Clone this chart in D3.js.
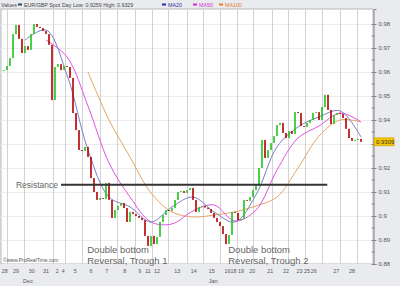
<!DOCTYPE html>
<html>
<head>
<meta charset="utf-8">
<script src="https://cdn.jsdelivr.net/npm/d3@7"></script>
<style>
  body { margin: 0; background: #e9ebee; }
  svg { display: block; font-family: "Liberation Sans", Arial, sans-serif; }
</style>
</head>
<body>
<svg id="chart" width="400" height="286"></svg>
<script>
// EUR/GBP spot, 4h closes (open = previous close)
const firstBarHour = 4;
const barHours = 4;
const closes = [
  0.9608, 0.9625, 0.9658, 0.9758, 0.9796, 0.9738, 0.9679, 0.9708, 0.9692, 0.9758,
  0.9800, 0.9788, 0.9783, 0.9771, 0.9758, 0.9713, 0.9483, 0.9621, 0.9633, 0.9608,
  0.9625, 0.9621, 0.9575, 0.9429, 0.9358, 0.9275, 0.9271, 0.9288, 0.9246, 0.9158,
  0.9100, 0.9067, 0.9075, 0.9071, 0.9138, 0.9067, 0.8992, 0.9025, 0.9042, 0.9054,
  0.9033, 0.8975, 0.9017, 0.9008, 0.9000, 0.8992, 0.8983, 0.8917, 0.8875, 0.8917,
  0.8883, 0.8913, 0.8975, 0.9004, 0.9025, 0.9021, 0.9033, 0.9067, 0.9100, 0.9104,
  0.9096, 0.9108, 0.9117, 0.9067, 0.9017, 0.9038, 0.9042, 0.9035, 0.9029, 0.9013,
  0.8992, 0.8975, 0.8958, 0.8925, 0.8883, 0.8921, 0.9017, 0.9013, 0.8983, 0.8988,
  0.9067, 0.9063, 0.9079, 0.9108, 0.9129, 0.9200, 0.9317, 0.9242, 0.9275, 0.9304,
  0.9333, 0.9379, 0.9388, 0.9346, 0.9325, 0.9354, 0.9342, 0.9433, 0.9429, 0.9375,
  0.9371, 0.9388, 0.9400, 0.9429, 0.9433, 0.9400, 0.9454, 0.9505, 0.9442, 0.9383,
  0.9421, 0.9429, 0.9425, 0.9408, 0.9363, 0.9325, 0.9313, 0.9317, 0.9321, 0.9309
];

// moving averages, one reading every 28 hours
const maHours = 28;
const ma20 = [null, 0.9733, 0.9775, 0.9588, 0.9275, 0.9079, 0.9038, 0.8975, 0.9038,
  0.9079, 0.9017, 0.8975, 0.9088, 0.9288, 0.9371, 0.9413, 0.9438, 0.9329];
const ma50 = [null, null, 0.9733, 0.9663, 0.9458, 0.9221, 0.9079, 0.8975, 0.8967,
  0.9021, 0.9046, 0.8979, 0.9025, 0.9192, 0.9325, 0.9375, 0.9429, 0.9392];
const ma100 = [null, null, null, null, 0.9600, 0.9400, 0.9246, 0.9096, 0.9017,
  0.8996, 0.9004, 0.9017, 0.9042, 0.9079, 0.9200, 0.9333, 0.9400, 0.9392];

const dayLabels = ["28", "29", "30", "31", "2", "4", "5", "6", "7", "8", "9", "11", "12", "13",
  "14", "15", "16", "18", "19", "20", "21", "22", "23", "25", "26", "27", "28"];
const dayHours = [5, 20, 41, 60, 75, 83, 99, 120, 141, 165, 185, 196, 208, 235,
  257, 281, 302, 310, 320, 335, 359, 380, 398, 408, 417, 447, 468];
const monthLabels = ["Dec", "Jan"];
const monthHours = [36, 283];
const gridHours = [8, 31, 69, 85, 108, 132, 155, 179, 201, 223, 248, 269, 292, 315,
  336, 361, 383, 405, 428, 452, 475];
const yTicks = [0.88, 0.89, 0.90, 0.91, 0.92, 0.93, 0.94, 0.95, 0.96, 0.97, 0.98];

const resistanceLevel = 0.913;
const resistanceHours = [80, 435];
const lastPrice = 0.9309;

const colors = {
  up: "#1fc41f",
  down: "#b30000",
  ma20: "#7c7cc8",
  ma50: "#e052e0",
  ma100: "#eaa262",
  grid: "#d2d2d2"
};

const svg = d3.select("#chart");
const W = 400, H = 286;
const plot = { left: 1, top: 9, right: 373, bottom: 264 };

const x = d3.scaleLinear().domain([0, 496]).range([plot.left, plot.right]);
const y = d3.scaleLinear().domain([0.88, 0.98625]).range([plot.bottom, plot.top]);

svg.append("rect").attr("width", W).attr("height", H).attr("fill", "#e9ebee");

svg.append("rect")
  .attr("x", plot.left).attr("y", plot.top)
  .attr("width", plot.right - plot.left).attr("height", plot.bottom - plot.top)
  .attr("fill", "#fff").attr("stroke", "#b4b8be");

// grid
svg.append("g").selectAll("line").data(yTicks).join("line")
  .attr("x1", plot.left).attr("x2", plot.right)
  .attr("y1", (d) => Math.round(y(d)) + 0.5).attr("y2", (d) => Math.round(y(d)) + 0.5)
  .attr("stroke", "#ebebeb");

svg.append("g").selectAll("line").data(gridHours).join("line")
  .attr("x1", (d) => Math.round(x(d)) + 0.5).attr("x2", (d) => Math.round(x(d)) + 0.5)
  .attr("y1", plot.top).attr("y2", plot.bottom)
  .attr("stroke", colors.grid);

// moving averages
const maLine = d3.line()
  .defined((d) => d != null)
  .x((d, i) => x(firstBarHour + i * maHours))
  .y((d) => y(d))
  .curve(d3.curveCatmullRom);

[["ma100", ma100], ["ma50", ma50], ["ma20", ma20]].forEach(([key, values]) => {
  svg.append("path")
    .attr("d", maLine(values))
    .attr("fill", "none")
    .attr("stroke", colors[key])
    .attr("stroke-width", 1);
});

// price bars
const bars = closes.map((c, i) => ({
  hour: firstBarHour + i * barHours,
  open: i > 0 ? closes[i - 1] : c,
  close: c
}));

svg.append("g").selectAll("rect").data(bars).join("rect")
  .attr("x", (d) => x(d.hour) - 0.8)
  .attr("width", 1.6)
  .attr("y", (d) => y(Math.max(d.open, d.close)))
  .attr("height", (d) => Math.max(1, Math.abs(y(d.open) - y(d.close))))
  .attr("fill", (d) => (d.close >= d.open ? colors.up : colors.down));

// resistance
svg.append("line")
  .attr("x1", x(resistanceHours[0])).attr("x2", x(resistanceHours[1]))
  .attr("y1", y(resistanceLevel)).attr("y2", y(resistanceLevel))
  .attr("stroke", "#333").attr("stroke-width", 2);

svg.append("text")
  .attr("x", x(resistanceHours[0]) - 3).attr("y", y(resistanceLevel) + 3)
  .attr("text-anchor", "end")
  .attr("font-size", 8.5).attr("fill", "#666")
  .text("Resistance");

// double bottom notes
[["Reversal, Trough 1", 115], ["Reversal, Trough 2", 303]].forEach(([label, h]) => {
  const t = svg.append("text").attr("font-size", 9.5).attr("fill", "#666");
  t.append("tspan").attr("x", x(h)).attr("y", 253).text("Double bottom");
  t.append("tspan").attr("x", x(h)).attr("y", 264).text(label);
});

// y axis on the right (0.93 sits under the last price tag)
const yAxis = svg.append("g")
  .attr("transform", `translate(${plot.right + 0.5},0)`)
  .call(d3.axisRight(y).tickValues(yTicks).tickSize(3).tickPadding(2)
    .tickFormat((d) => (Math.abs(d - lastPrice) < 0.003 ? "" : String(+d.toFixed(2)))));
yAxis.select(".domain").attr("stroke", "#888");
yAxis.selectAll(".tick line").attr("stroke", "#888").attr("x1", -2);
yAxis.selectAll("text").attr("font-size", 6).attr("fill", "#555")
  .attr("font-family", "Liberation Sans, Arial, sans-serif");

svg.append("g").selectAll("line").data(yTicks.slice(0, -1)).join("line")
  .attr("x1", plot.right - 1.5).attr("x2", plot.right + 2)
  .attr("y1", (d) => y(d + 0.005)).attr("y2", (d) => y(d + 0.005))
  .attr("stroke", "#888");

// last price tag
svg.append("rect")
  .attr("x", plot.right + 1).attr("y", y(lastPrice) - 4)
  .attr("width", 20).attr("height", 8)
  .attr("fill", "#f6c700").attr("stroke", "#c89b00").attr("stroke-width", 0.6);
svg.append("text")
  .attr("x", plot.right + 3).attr("y", y(lastPrice) + 2.2)
  .attr("font-size", 6).attr("fill", "#333")
  .text(lastPrice.toFixed(4));

// x labels
svg.append("g").selectAll("text").data(dayLabels).join("text")
  .attr("x", (d, i) => x(dayHours[i]))
  .attr("y", 273)
  .attr("text-anchor", "middle")
  .attr("font-size", 5.3).attr("fill", "#555")
  .text((d) => d);

svg.append("g").selectAll("text").data(monthLabels).join("text")
  .attr("x", (d, i) => x(monthHours[i]))
  .attr("y", 283)
  .attr("text-anchor", "middle")
  .attr("font-size", 5.5).attr("fill", "#555")
  .text((d) => d);

svg.append("text")
  .attr("x", 3).attr("y", 262)
  .attr("font-size", 5).attr("fill", "#555")
  .text("©www.ProRealTime.com");

// legend strip
const legend = svg.append("g").attr("font-size", 5.3);
legend.append("text").attr("x", 1).attr("y", 6.5).attr("fill", "#444").text("Values");
const legendItems = [
  { x: 18, color: "#33475f", text: "EUR/GBP Spot", textColor: "#444" },
  { x: 162, color: "#2d2dcc", text: "MA20", textColor: "#2d2d99" },
  { x: 193, color: "#e020e0", text: "MA50", textColor: "#d030d0" },
  { x: 219, color: "#f07a20", text: "MA100", textColor: "#e07a30" }
];
legendItems.forEach((d) => {
  legend.append("rect").attr("x", d.x).attr("y", 3.5).attr("width", 4).attr("height", 2).attr("fill", d.color);
  legend.append("text").attr("x", d.x + 6).attr("y", 6.5).attr("fill", d.textColor).text(d.text);
});
legend.append("text").attr("x", 62).attr("y", 6.5).attr("fill", "#444")
  .text("Day Low: 0.9259 High: 0.9329");
</script>
</body>
</html>
